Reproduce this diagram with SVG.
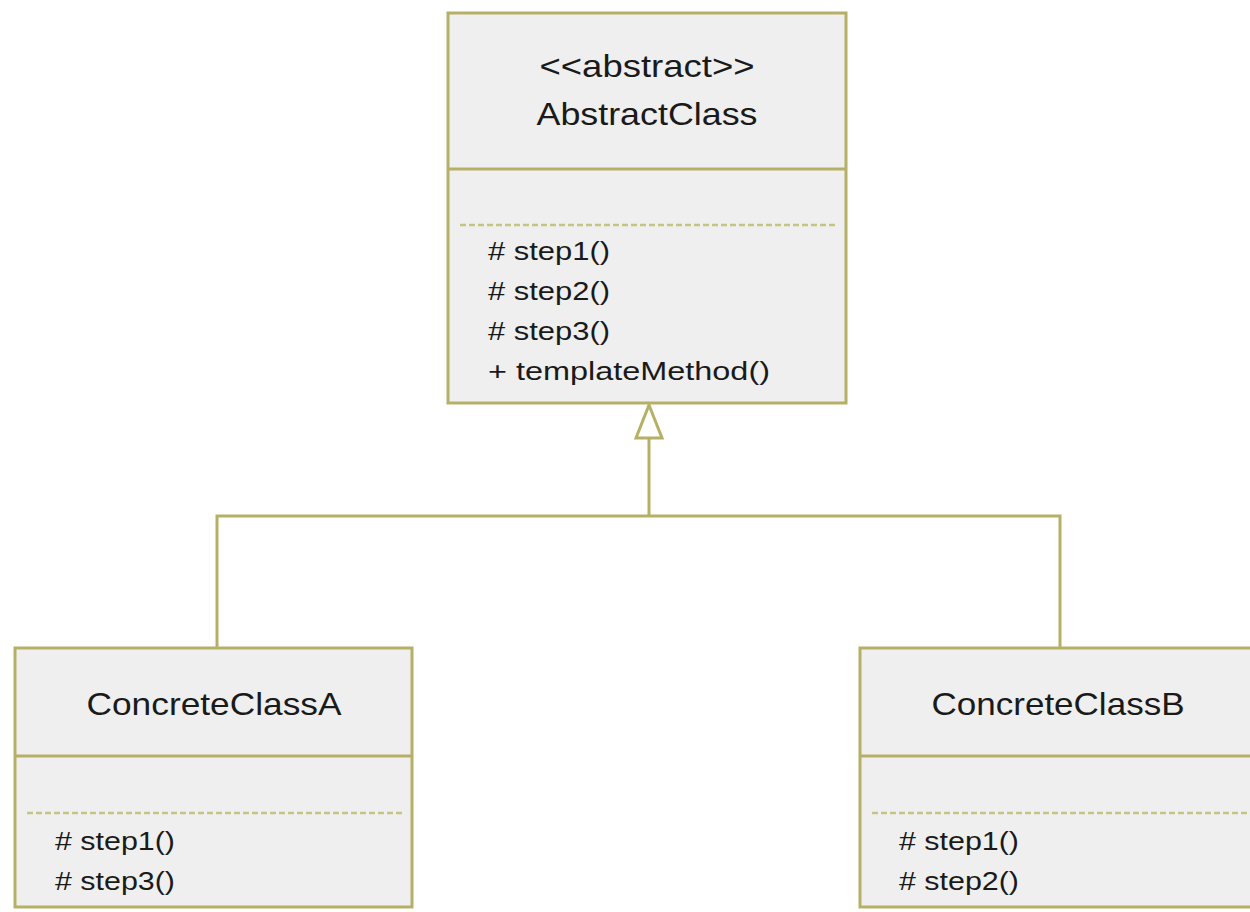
<svg xmlns="http://www.w3.org/2000/svg" width="1250" height="912" viewBox="0 0 1250 912">
<style>
.box{fill:#efefef;stroke:#b5b066;stroke-width:3}
.div{stroke:#b5b066;stroke-width:3}
.dash{stroke:#c6c482;stroke-width:2.5;stroke-dasharray:6 3}
.title{font-family:"Liberation Sans",Arial,sans-serif;font-size:32px;fill:#1a1a1a;text-anchor:middle}
.m{font-family:"Liberation Sans",Arial,sans-serif;font-size:26px;fill:#1a1a1a}
.conn{fill:none;stroke:#b5b066;stroke-width:3}
</style>
<rect width="1250" height="912" fill="#ffffff"/>
<g id="connectors">
<polyline class="conn" points="217,648 217,516 1060,516 1060,648"/>
<line class="conn" x1="649" y1="516" x2="649" y2="438"/>
<polygon points="649,405 636,438 662,438" fill="#ffffff" stroke="#b5b066" stroke-width="3"/>
</g>
<g id="AbstractClass">
<rect class="box" x="448" y="13" width="398" height="390"/>
<line class="div" x1="448" y1="169" x2="846" y2="169"/>
<line class="dash" x1="460" y1="225" x2="837" y2="225"/>
<text class="title" x="647" y="77" textLength="215" lengthAdjust="spacingAndGlyphs">&lt;&lt;abstract&gt;&gt;</text>
<text class="title" x="647" y="125" textLength="221" lengthAdjust="spacingAndGlyphs">AbstractClass</text>
<text class="m" x="488" y="260" textLength="122" lengthAdjust="spacingAndGlyphs"># step1()</text>
<text class="m" x="488" y="300" textLength="122" lengthAdjust="spacingAndGlyphs"># step2()</text>
<text class="m" x="488" y="340" textLength="122" lengthAdjust="spacingAndGlyphs"># step3()</text>
<text class="m" x="488" y="380" textLength="282" lengthAdjust="spacingAndGlyphs">+ templateMethod()</text>
</g>
<g id="ConcreteClassA">
<rect class="box" x="15" y="648" width="397" height="259"/>
<line class="div" x1="15" y1="756" x2="412" y2="756"/>
<line class="dash" x1="27" y1="813" x2="403" y2="813"/>
<text class="title" x="214" y="715" textLength="255" lengthAdjust="spacingAndGlyphs">ConcreteClassA</text>
<text class="m" x="55" y="850" textLength="120" lengthAdjust="spacingAndGlyphs"># step1()</text>
<text class="m" x="55" y="890" textLength="120" lengthAdjust="spacingAndGlyphs"># step3()</text>
</g>
<g id="ConcreteClassB">
<rect class="box" x="860" y="648" width="400" height="259"/>
<line class="div" x1="860" y1="756" x2="1260" y2="756"/>
<line class="dash" x1="872" y1="813" x2="1250" y2="813"/>
<text class="title" x="1058" y="715" textLength="253" lengthAdjust="spacingAndGlyphs">ConcreteClassB</text>
<text class="m" x="899" y="850" textLength="120" lengthAdjust="spacingAndGlyphs"># step1()</text>
<text class="m" x="899" y="890" textLength="120" lengthAdjust="spacingAndGlyphs"># step2()</text>
</g>
</svg>
